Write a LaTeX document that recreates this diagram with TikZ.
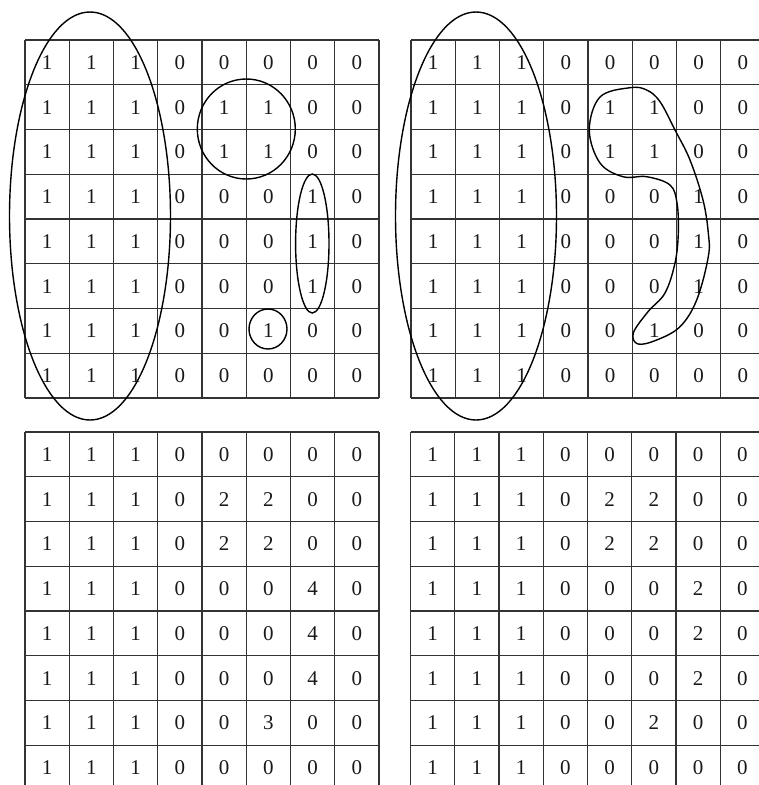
\documentclass[tikz,border=0pt]{standalone}
\usepackage{fontspec}
\setmainfont{Liberation Serif}
\usetikzlibrary{shapes.geometric}
\begin{document}
\begin{tikzpicture}[x=1pt,y=-1pt]
\tikzset{
  gridline/.style={draw=black!80, line width=1.2pt},
  num/.style={font=\fontsize{21}{21}\selectfont, inner sep=0pt, text=black!90},
  loopline/.style={draw=black, line width=1.4pt},
  oval/.style={loopline, ellipse, inner sep=0pt}
}
\useasboundingbox (0,0) rectangle (759,785);
\newcommand\mygrid[4]{%
  \foreach \i in {0,...,8} {
    \draw[gridline] (#2+\i*44.25, #3) -- (#2+\i*44.25, #3+8*44.75);
    \draw[gridline] (#2, #3+\i*44.75) -- (#2+8*44.25, #3+\i*44.75);
  }
  \foreach \row [count=\r from 0] in {#4} {
    \foreach \v [count=\c from 0] in \row {
      \node[num] (#1-\r-\c) at (#2+\c*44.25+22.125, #3+\r*44.75+22.375) {\v};
    }
  }
}
% top-left
\mygrid{A}{25}{40}{{1,1,1,0,0,0,0,0},{1,1,1,0,1,1,0,0},{1,1,1,0,1,1,0,0},{1,1,1,0,0,0,1,0},{1,1,1,0,0,0,1,0},{1,1,1,0,0,0,1,0},{1,1,1,0,0,1,0,0},{1,1,1,0,0,0,0,0}}
% top-right
\mygrid{B}{411}{40}{{1,1,1,0,0,0,0,0},{1,1,1,0,1,1,0,0},{1,1,1,0,1,1,0,0},{1,1,1,0,0,0,1,0},{1,1,1,0,0,0,1,0},{1,1,1,0,0,0,1,0},{1,1,1,0,0,1,0,0},{1,1,1,0,0,0,0,0}}
% bottom-left
\mygrid{C}{25}{432}{{1,1,1,0,0,0,0,0},{1,1,1,0,2,2,0,0},{1,1,1,0,2,2,0,0},{1,1,1,0,0,0,4,0},{1,1,1,0,0,0,4,0},{1,1,1,0,0,0,4,0},{1,1,1,0,0,3,0,0},{1,1,1,0,0,0,0,0}}
% bottom-right
\mygrid{D}{410.5}{432}{{1,1,1,0,0,0,0,0},{1,1,1,0,2,2,0,0},{1,1,1,0,2,2,0,0},{1,1,1,0,0,0,2,0},{1,1,1,0,0,0,2,0},{1,1,1,0,0,0,2,0},{1,1,1,0,0,2,0,0},{1,1,1,0,0,0,0,0}}

% loops, top-left
\node[oval, minimum width=161pt, minimum height=408pt] (A-big) at (90,216) {};
\node[oval, minimum width=98pt, minimum height=100pt] (A-sq) at (246.3,129) {};
\node[oval, minimum width=33.4pt, minimum height=139pt] (A-col) at (312.3,243.5) {};
\node[oval, minimum width=38pt, minimum height=40pt] (A-dot) at (268,329) {};

% loops, top-right
\node[oval, minimum width=161pt, minimum height=408pt] (B-big) at (476,216) {};
\draw[loopline] plot[smooth cycle, tension=0.6] coordinates {
  (630,87.7) (600,97) (589.3,130) (600,163) (623,176.7) (646.7,176.7) (670,185)
  (677,203) (678.3,233) (675,263) (665,293) (648,311.7) (633.3,333) (638,344)
  (656.7,340) (680,326.7) (696.7,300) (708.3,256.7) (708.3,233) (703,200)
  (690,160) (675,130) (660,101.7) (646.7,90)};
\end{tikzpicture}
\end{document}
